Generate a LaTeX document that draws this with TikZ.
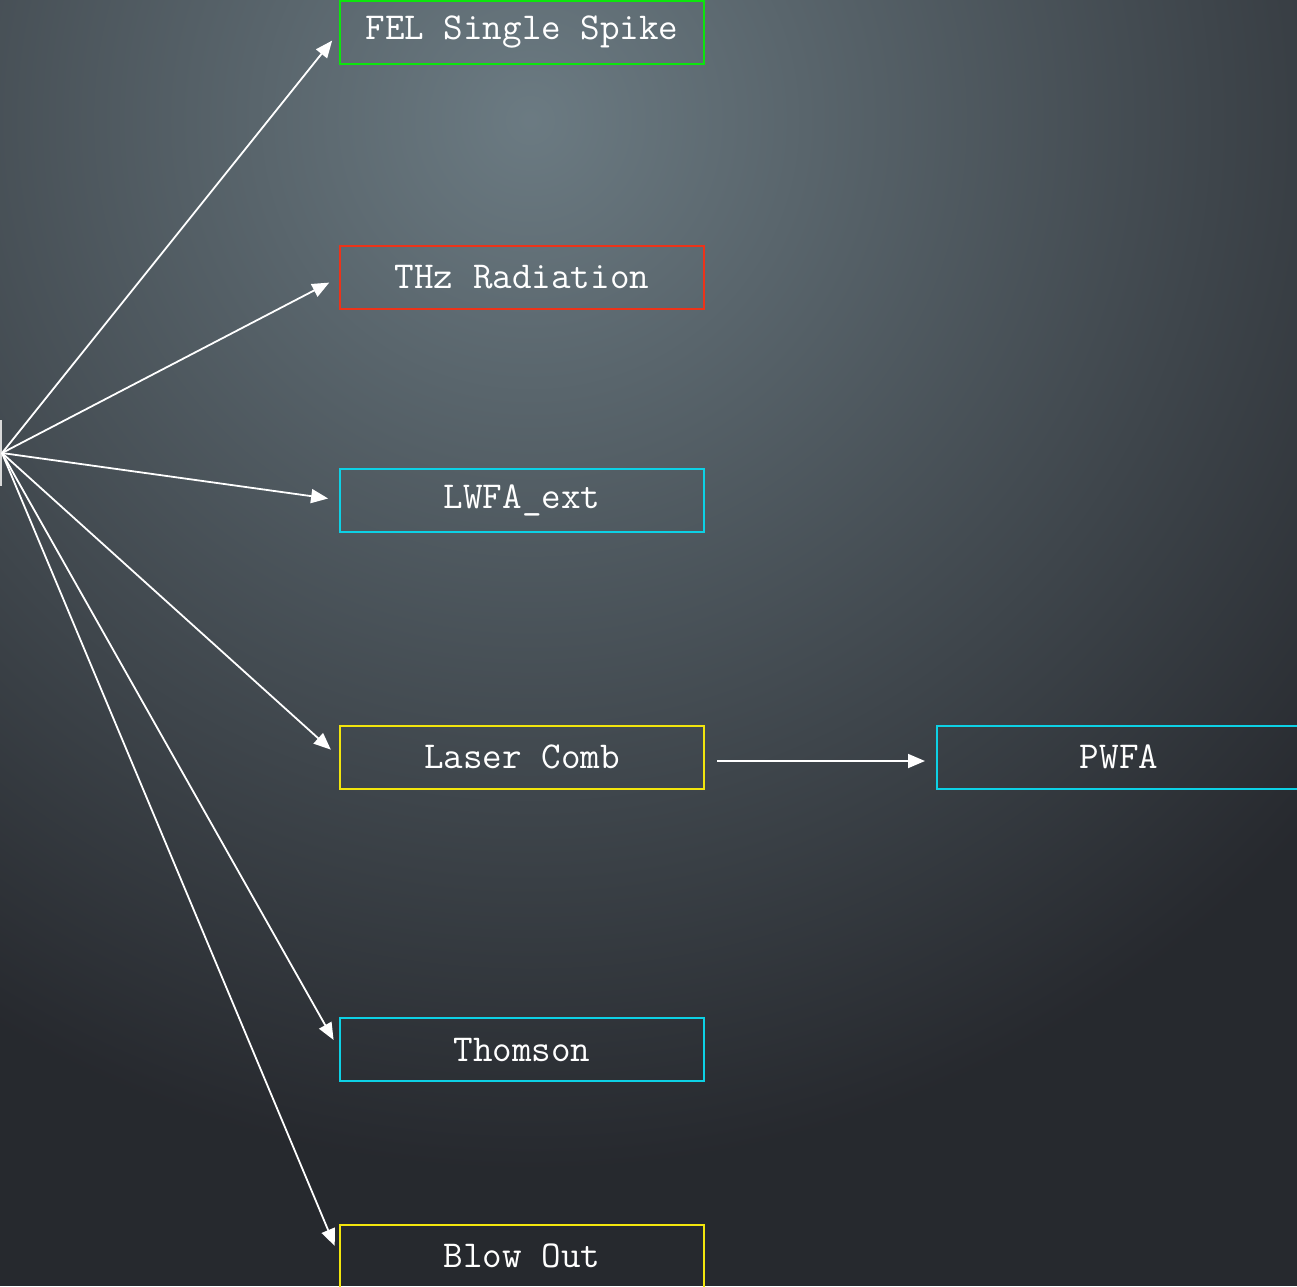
\documentclass[tikz,border=0pt]{standalone}
\usetikzlibrary{arrows.meta,calc}
\definecolor{BgInner}{rgb}{0.42,0.48,0.51}
\definecolor{BgOuter}{rgb}{0.15,0.16,0.18}
\definecolor{FelClr}{rgb}{0.05,0.9,0.05}
\definecolor{ThzClr}{rgb}{0.93,0.2,0.1}
\definecolor{CyanClr}{rgb}{0.05,0.82,0.9}
\definecolor{YellowClr}{rgb}{0.95,0.9,0.05}
\definecolor{RootClr}{rgb}{0.85,0.85,0.85}

\begin{document}
\begin{tikzpicture}[x=1pt,y=-1pt,
  box/.style={draw,line width=2pt,minimum width=364pt,minimum height=63pt,
    inner sep=0pt,text=white,font=\ttfamily\fontsize{38}{40}\selectfont},
  link/.style={draw=white,line width=1.8pt,
    -{Triangle[length=17pt,width=14pt]},shorten >=11pt}]
\useasboundingbox (0,0) rectangle (1297,1286);
\clip (0,0) rectangle (1297,1286);
\fill[BgOuter] (0,0) rectangle (1297,1286);
\shade[inner color=BgInner,outer color=BgOuter] (530,120) circle (1050);

\node[box,draw=RootClr,minimum width=300pt,minimum height=64pt,anchor=east] (root) at (2,453) {};

\node[box,draw=FelClr] (fel) at (522,32) {FEL Single Spike};
\node[box,draw=ThzClr] (thz) at (522,277.5) {THz Radiation};
\node[box,draw=CyanClr] (lwfa) at (522,500) {LWFA\_ext};
\node[box,draw=YellowClr] (comb) at (522,757) {Laser Comb};
\node[box,draw=CyanClr] (thomson) at (522,1049.5) {Thomson};
\node[box,draw=YellowClr] (blow) at (522,1256) {Blow Out};
\node[box,draw=CyanClr] (pwfa) at (1119,757) {PWFA};

\foreach \n in {fel,thz,lwfa,comb,thomson,blow}
  \draw[link] (root.east) -- (\n.west);
\draw[link,shorten <=12pt] ($(comb.east)+(0,4)$) -- ($(pwfa.west)+(0,4)$);

\end{tikzpicture}
\end{document}
